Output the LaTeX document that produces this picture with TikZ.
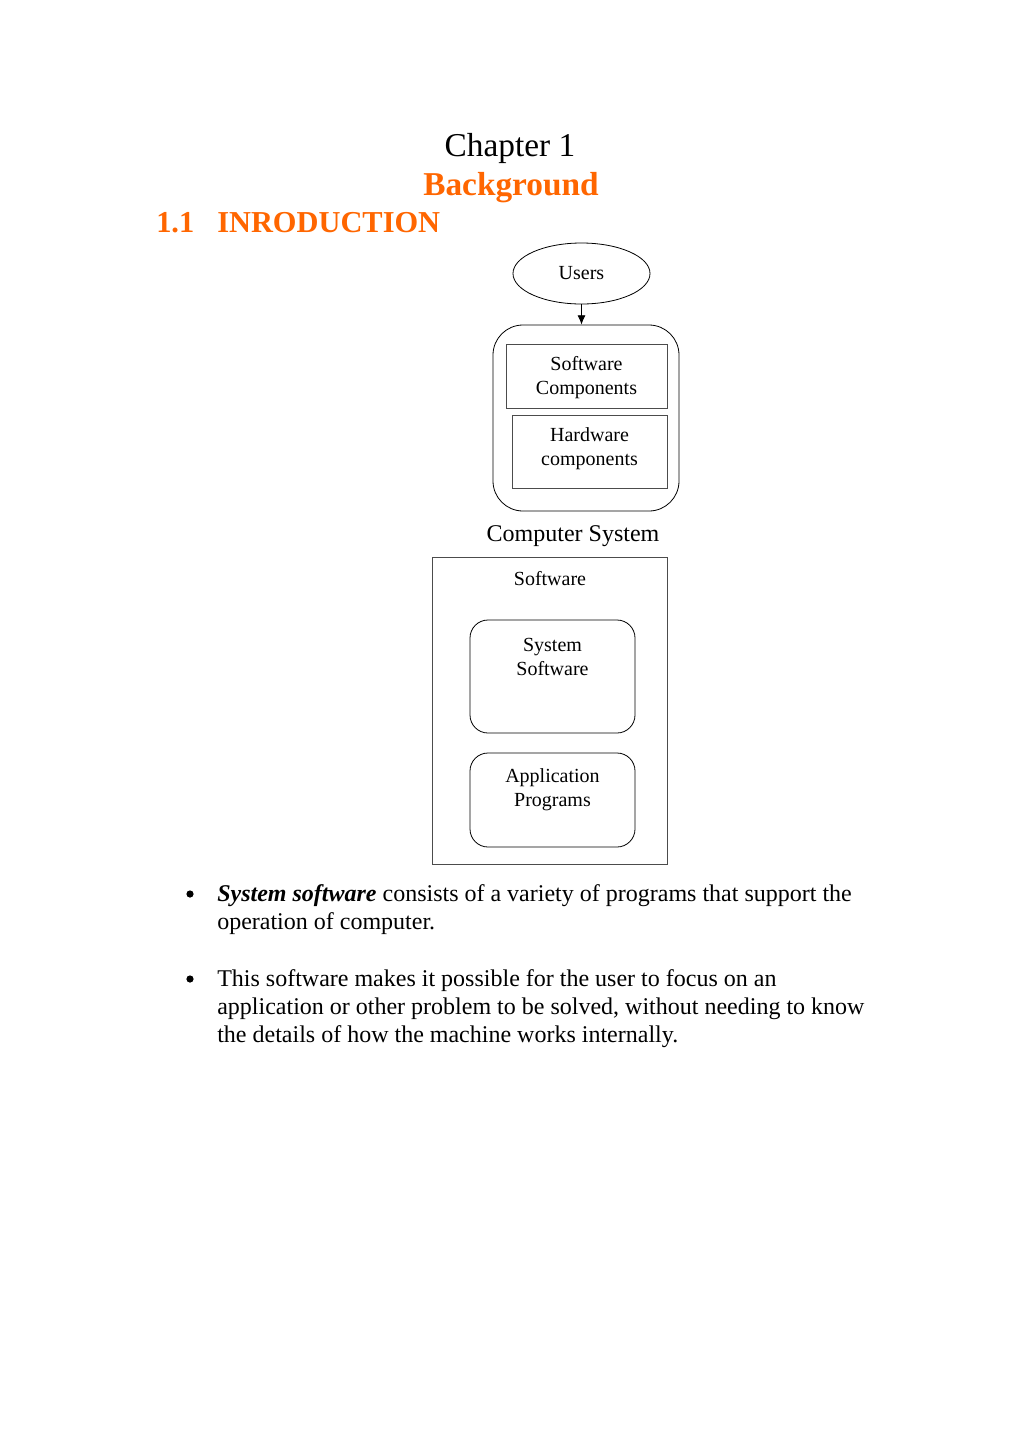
\documentclass[tikz,border=0pt]{standalone}
\usepackage{fontspec}
\setmainfont{Liberation Serif}
\usetikzlibrary{shapes.geometric,arrows.meta}
\definecolor{orng}{HTML}{FF6600}
\tikzset{
  dtext/.style={font=\fontsize{15}{18}\selectfont, align=center, inner sep=0pt},
  btext/.style={font=\fontsize{18}{21}\selectfont, align=left, inner sep=0pt, anchor=west},
  sqbox/.style={draw=black!70, line width=0.6pt, inner sep=0pt},
  rbox/.style={draw=black, line width=0.6pt, inner sep=0pt},
  conn/.style={draw=black, line width=0.6pt, -{Latex[length=7pt,width=6pt]}},
  bul/.style={circle, fill=black, inner sep=0pt, minimum size=5.4pt},
}
\begin{document}
\begin{tikzpicture}[x=0.75pt,y=-0.75pt]
\useasboundingbox[fill=white] (0,0) rectangle (1020,1443);
% headings
\node[inner sep=0pt, font=\fontsize{25}{30}\selectfont] (chap) at (510,148) {Chapter 1};
\node[inner sep=0pt, font=\fontsize{25}{30}\selectfont\bfseries, text=orng] (bg) at (511,188) {Background};
\node[inner sep=0pt, anchor=west, font=\fontsize{22.8}{27}\selectfont\bfseries, text=orng] (secnum) at (156,223) {1.1};
\node[inner sep=0pt, anchor=west, font=\fontsize{22.8}{27}\selectfont\bfseries, text=orng] (sec) at (217,223) {INRODUCTION};
% computer system diagram
\node[rbox, ellipse, minimum width=102.75pt, minimum height=45.75pt] (users) at (581.5,273.5) {};
\node[dtext] (userst) at (581.5,273) {Users};
\node[rbox, rounded corners=22.5pt, minimum width=139.5pt, minimum height=139.5pt] (cs) at (586,418) {};
\node[sqbox, minimum width=120.75pt, minimum height=48pt] (swc) at (586.5,376) {};
\node[dtext] (swct) at (586.5,378) {Software\\Components};
\node[sqbox, minimum width=116.25pt, minimum height=54.75pt] (hwc) at (589.5,451.5) {};
\node[dtext] (hwct) at (589.5,449) {Hardware\\components};
\draw[conn] (users.south) -- (users.south |- cs.north);
\node[inner sep=0pt, font=\fontsize{18}{21}\selectfont] (cst) at (573,536) {Computer System};
% software diagram
\node[sqbox, minimum width=176.25pt, minimum height=230.25pt] (sw) at (549.5,710.5) {};
\node[dtext] (swt) at (550,579) {Software};
\node[rbox, rounded corners=13.5pt, minimum width=123.75pt, minimum height=84.75pt] (sys) at (552.5,676.5) {};
\node[dtext] (syst) at (552.5,657) {System\\Software};
\node[rbox, rounded corners=13.5pt, minimum width=123.75pt, minimum height=70.5pt] (app) at (552.5,800) {};
\node[dtext] (appt) at (552.5,790) {Application\\Programs};
% bullets
\node[bul] (b1) at (190,894) {};
\node[btext] (p1) at (217,910) {\textbf{\textit{System software}} consists of a variety of programs that support the\\operation of computer.};
\node[bul] (b2) at (190,979) {};
\node[btext] (p2) at (217,1009) {This software makes it possible for the user to focus on an\\application or other problem to be solved, without needing to know\\the details of how the machine works internally.};
\end{tikzpicture}
\end{document}
